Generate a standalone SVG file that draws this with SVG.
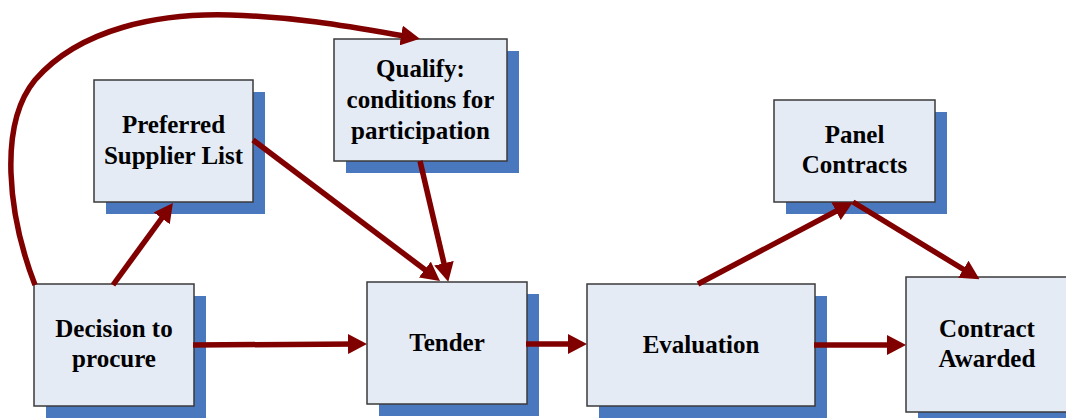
<svg xmlns="http://www.w3.org/2000/svg" width="1066" height="418" viewBox="0 0 1066 418">
<style>
.sh{fill:#4A78BF}
.bx{fill:#E5EBF5;stroke:#3a3a3a;stroke-width:1.5}
.t{font-family:"Liberation Serif","Times New Roman",serif;font-weight:bold;font-size:25px;fill:#000;text-anchor:middle}
.c{fill:none;stroke:#800000;stroke-width:5.5;marker-end:url(#ah)}
</style>
<defs>
<marker id="ah" viewBox="0 0 19 20" refX="9" refY="10" markerUnits="userSpaceOnUse" markerWidth="19" markerHeight="20" orient="auto">
<path d="M0,0 L19,10 L0,20 z" fill="#800000"/>
</marker>
</defs>
<rect width="1066" height="418" fill="#fff"/>
<g id="preferred">
<rect class="sh" x="106" y="92" width="159" height="122"/>
<rect class="bx" x="94" y="80" width="159" height="122"/>
<text class="t" x="173.5" y="133">Preferred</text>
<text class="t" x="173.5" y="164">Supplier List</text>
</g>
<g id="qualify">
<rect class="sh" x="346" y="51" width="173" height="122"/>
<rect class="bx" x="334" y="39" width="173" height="122"/>
<text class="t" x="420.5" y="77">Qualify:</text>
<text class="t" x="420.5" y="108">conditions for</text>
<text class="t" x="420.5" y="139">participation</text>
</g>
<g id="decision">
<rect class="sh" x="46" y="296" width="160" height="122"/>
<rect class="bx" x="34" y="284" width="160" height="122"/>
<text class="t" x="114" y="337">Decision to</text>
<text class="t" x="114" y="367">procure</text>
</g>
<g id="tender">
<rect class="sh" x="379" y="294" width="160" height="122"/>
<rect class="bx" x="367" y="282" width="160" height="122"/>
<text class="t" x="447" y="351">Tender</text>
</g>
<g id="evaluation">
<rect class="sh" x="599" y="296" width="228" height="122"/>
<rect class="bx" x="587" y="284" width="228" height="122"/>
<text class="t" x="701" y="353">Evaluation</text>
</g>
<g id="panel">
<rect class="sh" x="786" y="112" width="161" height="102"/>
<rect class="bx" x="774" y="100" width="161" height="102"/>
<text class="t" x="854.5" y="143">Panel</text>
<text class="t" x="854.5" y="173">Contracts</text>
</g>
<g id="awarded">
<rect class="sh" x="918" y="289" width="162" height="135"/>
<rect class="bx" x="906" y="277" width="162" height="135"/>
<text class="t" x="987" y="337">Contract</text>
<text class="t" x="987" y="367">Awarded</text>
</g>
<g id="connectors">
<path class="c" d="M35,285 C8,215 -2,125 35,80 C80,28 160,13 230,15 C300,17 352,27 410,37"/>
<path class="c" d="M113,285 L167,211"/>
<path class="c" d="M253,140 L432,275"/>
<path class="c" d="M420,161 L446,272"/>
<path class="c" d="M193,345 L357,344"/>
<path class="c" d="M526,344 L577,344"/>
<path class="c" d="M698,284 L844,207"/>
<path class="c" d="M853,202 L971,274"/>
<path class="c" d="M814,345 L896,345"/>
</g>
</svg>
